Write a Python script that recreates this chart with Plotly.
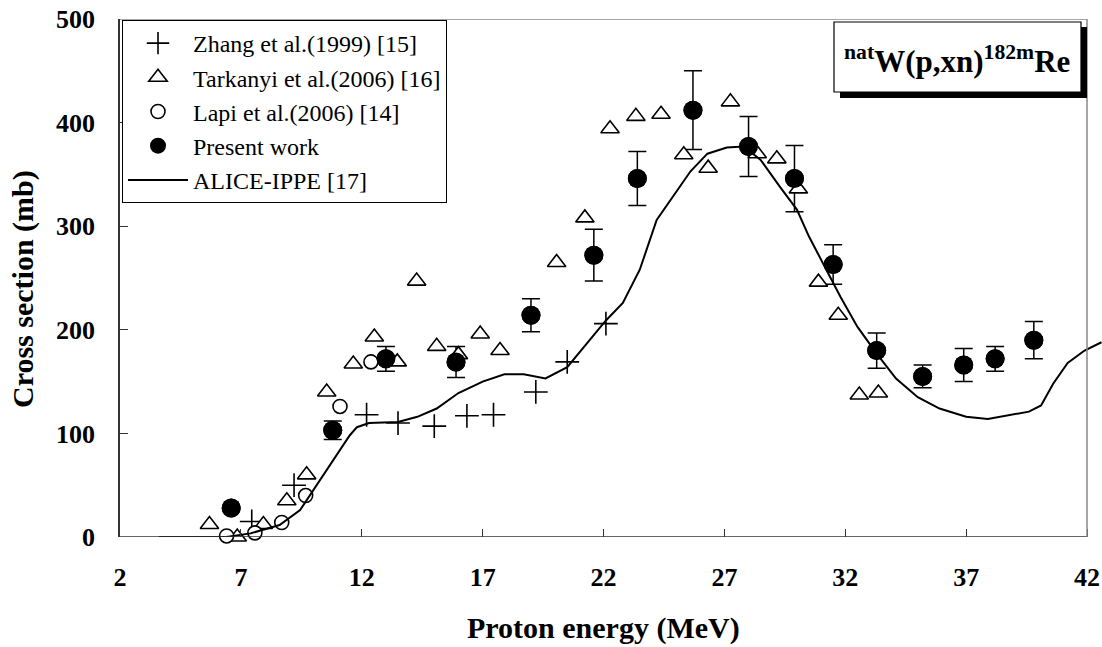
import plotly.graph_objects as go

# ---------------- data ----------------
zhang_E = [7.45, 9.2, 12.2, 13.5, 15.0, 16.35, 17.45, 19.2, 20.5, 22.1]
zhang_val = [15, 50, 118, 110, 107, 117, 118, 140, 169, 206]

tark_E = [5.7, 6.85, 7.93, 8.9, 9.72, 10.55, 11.65, 12.52, 13.47, 14.27, 15.1, 16.0,
          16.9, 17.72, 20.06, 21.23, 22.27, 23.34, 24.38, 25.32, 26.33, 27.25, 28.36,
          29.17, 30.06, 30.89, 31.71, 32.58, 33.37]
tark_val = [12, 0, 12, 35, 60, 140, 167, 193, 169, 247, 184, 176,
            196, 180, 265, 308, 394, 406, 408, 369, 356, 420, 370,
            365, 336, 246, 214, 137, 139]

lapi_E = [6.41, 7.58, 8.69, 9.68, 11.1, 12.38]
lapi_val = [1, 4, 14, 40, 126, 169]

present_E = [6.6, 10.8, 13.0, 15.9, 19.0, 21.6, 23.4, 25.7, 28.0, 29.9, 31.5, 33.3,
             35.2, 36.9, 38.2, 39.8]
present_val = [28, 103, 172, 169, 214, 272, 346, 412, 377, 346, 263, 180,
               155, 166, 172, 190]
present_err = [2, 9, 12, 15, 16, 25, 26, 38, 29, 32, 19, 17, 11, 16, 12, 18]

alice_E = [3.6, 6.4, 7.4, 8.6, 9.45, 10.27, 10.96, 11.5, 11.8, 12.3, 13.5, 14.3, 15.1,
           16.0, 17.0, 17.9, 18.7, 19.6, 20.5, 21.2, 22.1, 22.8, 23.5, 24.2, 24.9,
           25.6, 26.3, 27.1, 27.8, 28.5, 29.3, 30.0, 30.5, 31.2, 31.8, 32.5, 33.3,
           34.1, 35.0, 35.9, 37.0, 37.9, 38.9, 39.6, 40.1, 40.6, 41.2, 41.9, 42.6]
alice_val = [0, 0, 3.5, 11.6, 26, 55, 79, 98, 106, 110, 111, 116, 124,
             139, 150, 157, 157, 153, 164, 184, 209, 226, 258, 306, 329,
             353, 370, 376, 377, 364, 338, 316, 290, 258, 232, 203, 177,
             153, 135, 124, 116, 114, 118, 121, 127, 148, 168, 180, 188]

x_ticks = [2, 7, 12, 17, 22, 27, 32, 37, 42]
y_ticks = [0, 100, 200, 300, 400, 500]

FONT = '"Liberation Serif", "Times New Roman", Times, serif'

# ---------------- geometry helpers (pixels -> paper) ----------------
W, H = 1102, 647
L, R, T, B = 120, 0, 19, 110
PW, PH = W - L - R, H - T - B
X_MIN, X_MAX = 2, 42 + 15 / 24.175


def px(xp):
    return (xp - L) / PW


def py(yp):
    return (H - B - yp) / PH


fig = go.Figure()

# error bars of present work (drawn first, under the other markers)
fig.add_trace(go.Scatter(
    x=present_E, y=present_val, mode="markers",
    marker=dict(size=19, color="black"),
    error_y=dict(type="data", array=present_err, visible=True,
                 color="black", thickness=1.5, width=9),
    showlegend=False, cliponaxis=False, hoverinfo="skip"))

fig.add_trace(go.Scatter(
    x=zhang_E, y=zhang_val, mode="markers", name="Zhang et al.(1999) [15]",
    marker=dict(symbol="cross-thin-open", size=17, color="black",
                line=dict(color="black", width=1.6)),
    cliponaxis=False))

fig.add_trace(go.Scatter(
    x=tark_E, y=tark_val, mode="markers", name="Tarkanyi et al.(2006) [16]",
    marker=dict(symbol="triangle-up", size=16, color="white",
                line=dict(color="black", width=1.6)),
    cliponaxis=False))

fig.add_trace(go.Scatter(
    x=lapi_E, y=lapi_val, mode="markers", name="Lapi et al.(2006) [14]",
    marker=dict(symbol="circle", size=14, color="white",
                line=dict(color="black", width=1.6)),
    cliponaxis=False))

fig.add_trace(go.Scatter(
    x=present_E, y=present_val, mode="markers", name="Present work",
    marker=dict(symbol="circle", size=19, color="black"),
    cliponaxis=False))

fig.add_trace(go.Scatter(
    x=alice_E, y=alice_val, mode="lines", name="ALICE-IPPE [17]",
    line=dict(color="black", width=2),
    cliponaxis=True))

# invisible copy of the model curve on the overlay axis that draws inside ticks
fig.add_trace(go.Scatter(x=alice_E, y=alice_val, mode="lines", xaxis="x2",
                         line=dict(color="rgba(0,0,0,0)", width=0),
                         showlegend=False, hoverinfo="skip"))

# frame lines
shapes = [
    dict(type="line", xref="x", yref="y", x0=2, x1=42, y0=0, y1=0,
         line=dict(color="#333", width=1.5)),
    dict(type="line", xref="x", yref="y", x0=2, x1=42, y0=500, y1=500,
         line=dict(color="#888", width=1.5)),
    dict(type="line", xref="x", yref="y", x0=42, x1=42, y0=0, y1=500,
         line=dict(color="#888", width=1.5)),
    dict(type="rect", xref="paper", yref="paper",
         x0=px(840), x1=px(1087), y0=py(98), y1=py(27),
         fillcolor="black", line=dict(width=0)),
    dict(type="rect", xref="paper", yref="paper",
         x0=px(834), x1=px(1081), y0=py(92), y1=py(22),
         fillcolor="white", line=dict(color="black", width=1.2)),
]

annotations = [
    dict(text="<sup>nat</sup>W(p,xn)<sup>182m</sup>Re", xref="paper", yref="paper",
         x=px(957), y=py(60), xanchor="center", yanchor="middle", showarrow=False,
         font=dict(family=FONT, size=31, color="black", weight="bold")),
    dict(text="Proton energy (MeV)", xref="paper", yref="paper",
         x=px(603.5), y=py(628), xanchor="center", yanchor="middle", showarrow=False,
         font=dict(family=FONT, size=30, color="black", weight="bold")),
    dict(text="Cross section (mb)", xref="paper", yref="paper", textangle=-90,
         x=px(23), y=py(289), xanchor="center", yanchor="middle", showarrow=False,
         font=dict(family=FONT, size=30, color="black", weight="bold")),
]

fig.update_layout(
    width=W, height=H,
    margin=dict(l=L, r=R, t=T, b=B),
    paper_bgcolor="white", plot_bgcolor="white",
    font=dict(family=FONT, color="black"),
    shapes=shapes, annotations=annotations,
    legend=dict(
        x=px(122), y=py(20), xanchor="left", yanchor="top",
        bordercolor="black", borderwidth=1, bgcolor="white",
        font=dict(family=FONT, size=24, color="black"),
        itemwidth=60, tracegroupgap=0),
    # primary x axis: carries the tick labels, pushed down by invisible outside ticks
    xaxis=dict(
        range=[X_MIN, X_MAX], tickvals=x_ticks, ticktext=[str(v) for v in x_ticks],
        ticks="outside", ticklen=17, tickwidth=1, tickcolor="rgba(0,0,0,0)",
        showline=False, showgrid=False, zeroline=False,
        tickfont=dict(family=FONT, size=26, color="black", weight="bold")),
    # overlay x axis: draws the inside tick marks only
    xaxis2=dict(
        overlaying="x", matches="x", side="bottom", anchor="y",
        tickvals=x_ticks, showticklabels=False,
        ticks="inside", ticklen=8, tickwidth=1, tickcolor="#333",
        showline=False, showgrid=False, zeroline=False),
    yaxis=dict(
        range=[0, 500], tickvals=y_ticks, ticktext=[str(v) for v in y_ticks],
        ticks="inside", ticklen=8, tickwidth=1, tickcolor="#333",
        showline=True, linecolor="#333", linewidth=1.5,
        showgrid=False, zeroline=False,
        ticklabelstandoff=18,
        tickfont=dict(family=FONT, size=26, color="black", weight="bold")),
)

fig.write_html("out.html")
